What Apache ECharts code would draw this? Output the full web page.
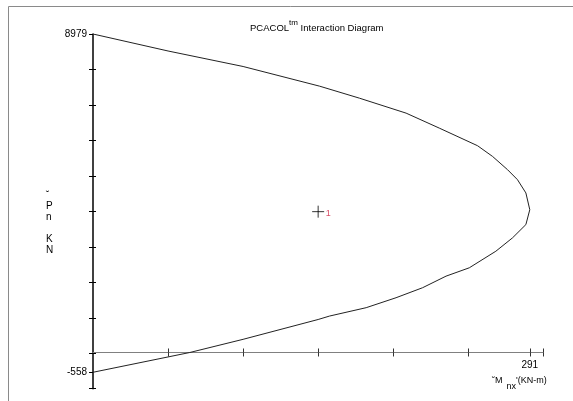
<!DOCTYPE html>
<html>
<head>
<meta charset="utf-8">
<script src="https://cdn.jsdelivr.net/npm/echarts@6/dist/echarts.min.js"></script>
<style>
html,body{margin:0;padding:0;background:#fff;}
#c{width:573px;height:401px;}
</style>
</head>
<body>
<div id="c"></div>
<script>
// Interaction diagram: upper and lower branches, M in kN·m, P in kN
const upperM = [0, 50, 100, 151, 177.5, 208.6, 230.7, 256.2, 266.2, 276.2, 282.8, 288.4, 291];
const upperP = [8979, 8500, 8063, 7508, 7170, 6748, 6326, 5829, 5527, 5153, 4872, 4498, 4025];
const lowerM = [288.4, 279.5, 268.4, 250.7, 235.2, 219.6, 201.9, 182, 157.6, 150, 100, 64.5, 0];
const lowerP = [3606, 3232, 2855, 2388, 2152, 1826, 1544, 1263, 1027, 930, 371, 0, -558];
// Load point
const loadM = [150];
const loadP = [3970];
const loadLabels = ['1'];
// Axes
const xMin = 0, xMax = 300, xStep = 50;
const xTicks = [50, 100, 150, 200, 250, 291, 300];
const xLabels = [291];
const yMin = -1021, yMax = 8979, yStep = 1000;
const yTicks = [-1021, -558, -21, 979, 1979, 2979, 3979, 4979, 5979, 6979, 7979, 8979];
const yInnerTicks = [-1021, -21, 979, 1979, 2979, 3979, 4979, 5979, 6979, 7979];
const yLabels = [8979, -558];
const titleMain = 'PCACOL';
const titleSup = 'tm';
const titleRest = ' Interaction Diagram';
const yName = ['\u02D8', 'P', 'n', '', 'K', 'N'];
const xNameMain = '\u02D8M';
const xNameSub = 'nx';
const xNameUnit = '\'(KN-m)';

const curve = [];
upperM.forEach((m, i) => curve.push([m, upperP[i]]));
lowerM.forEach((m, i) => curve.push([m, lowerP[i]]));
const loads = loadM.map((m, i) => ({ value: [m, loadP[i]], name: loadLabels[i] }));

const GRID = { left: 93, right: 29.7, top: 34, bottom: 12.3 };
const gridH = 401 - GRID.top - GRID.bottom;
// x axis sits on P = 0: shift it up from the grid bottom by the scale distance of 0 above yMin
const xAxisOffset = -((0 - yMin) / (yMax - yMin)) * gridH;

const FONT = 'Liberation Sans, Arial, sans-serif';
const chart = echarts.init(document.getElementById('c'), null, { renderer: 'canvas' });
chart.setOption({
  animation: false,
  backgroundColor: '#ffffff',
  textStyle: { fontFamily: FONT },
  title: {
    left: 245, top: 14,
    text: '{a|' + titleMain + '}{b|' + titleSup + '}{a|' + titleRest + '}',
    textStyle: {
      rich: {
        a: { fontFamily: FONT, fontSize: 9.5, fontWeight: 'normal', color: '#000', lineHeight: 14, verticalAlign: 'bottom' },
        b: { fontFamily: FONT, fontSize: 8, fontWeight: 'normal', color: '#000', lineHeight: 14, verticalAlign: 'top' }
      }
    }
  },
  grid: { left: GRID.left, right: GRID.right, top: GRID.top, bottom: GRID.bottom, containLabel: false, outerBoundsMode: 'none' },
  xAxis: [{
    type: 'value', min: xMin, max: xMax, interval: xStep, position: 'bottom', offset: xAxisOffset,
    axisLine: { onZero: false, lineStyle: { color: '#808080', width: 1 } },
    axisTick: { show: true, length: 4, customValues: xTicks, lineStyle: { color: '#333' } },
    axisLabel: { show: true, customValues: xLabels, color: '#000', fontSize: 10, margin: 8, fontFamily: FONT },
    splitLine: { show: false }
  }, {
    type: 'value', min: xMin, max: xMax, interval: xStep, position: 'bottom', offset: xAxisOffset,
    axisLine: { show: false, onZero: false },
    axisTick: { show: true, inside: true, length: 4, customValues: xTicks, lineStyle: { color: '#333' } },
    axisLabel: { show: false },
    splitLine: { show: false }
  }],
  yAxis: [{
    type: 'value', min: yMin, max: yMax, interval: yStep, position: 'left',
    axisLine: { show: true, onZero: false, lineStyle: { color: '#000', width: 1.5 } },
    axisTick: { show: true, length: 4, customValues: yTicks, lineStyle: { color: '#000' } },
    axisLabel: { show: true, customValues: yLabels, color: '#000', fontSize: 10, margin: 6, fontFamily: FONT, formatter: v => String(v) },
    splitLine: { show: false }
  }, {
    type: 'value', min: yMin, max: yMax, interval: yStep, position: 'left',
    axisLine: { show: false, onZero: false },
    axisTick: { show: true, inside: true, length: 3, customValues: yInnerTicks, lineStyle: { color: '#000' } },
    axisLabel: { show: false },
    splitLine: { show: false }
  }],
  graphic: [
    { type: 'line', shape: { x1: 8.5, y1: 6.5, x2: 573, y2: 6.5 }, style: { stroke: '#8a8a8a', lineWidth: 1 }, silent: true },
    { type: 'line', shape: { x1: 8.5, y1: 6.5, x2: 8.5, y2: 401 }, style: { stroke: '#8a8a8a', lineWidth: 1 }, silent: true },
    { type: 'text', left: 46, top: 190, style: { text: yName.join('\n'), font: '10px ' + FONT, fill: '#000', lineHeight: 11, textAlign: 'left' }, silent: true },
    { type: 'text', left: 492, top: 376, style: { text: '{a|' + xNameMain + '}{s|' + xNameSub + '}{a|' + xNameUnit + '}',
        rich: {
          a: { fontFamily: FONT, fontSize: 9, fill: '#000', lineHeight: 15, verticalAlign: 'top', padding: [0, 1, 0, 0] },
          s: { fontFamily: FONT, fontSize: 9, fill: '#000', lineHeight: 15, verticalAlign: 'bottom', padding: [0, 0, 0, 3] }
        } }, silent: true }
  ],
  series: [{
    type: 'line', xAxisIndex: 0, yAxisIndex: 0,
    data: curve, showSymbol: false, symbol: 'none', smooth: false,
    lineStyle: { color: '#222', width: 1 },
    silent: true
  }, {
    type: 'scatter', xAxisIndex: 0, yAxisIndex: 0,
    data: loads,
    symbol: 'path://M0,6L12,6M6,0L6,12', symbolSize: 12,
    itemStyle: { color: 'none', borderColor: '#000', borderWidth: 1 },
    label: { show: true, position: 'right', distance: -1, offset: [0, 2], formatter: '{b}', color: '#d02040', fontSize: 9, fontFamily: FONT },
    silent: true
  }]
});
</script>
</body>
</html>
